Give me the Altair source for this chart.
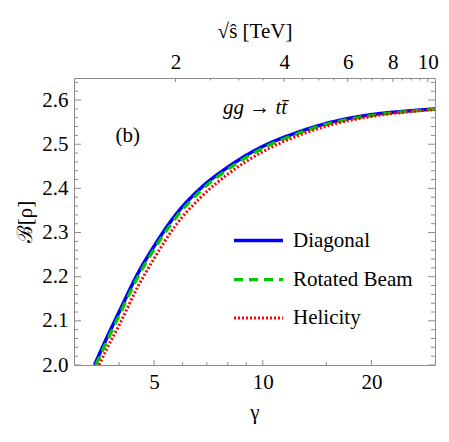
import altair as alt
import pandas as pd

# ---- data ----
series_names = ["Diagonal", "Rotated Beam", "Helicity"]

gamma_diag = [3.42, 3.7, 4.0, 4.5, 5.0, 5.7, 6.7, 8.0, 10.0, 12.5, 15.0, 20.0, 25.0, 30.0]
b_diag = [2.000, 2.062, 2.120, 2.206, 2.269, 2.337, 2.399, 2.448, 2.495, 2.527, 2.547, 2.567, 2.575, 2.580]

gamma_rot = [3.45, 3.7, 4.0, 4.5, 5.0, 5.7, 6.7, 8.0, 10.0, 12.5, 15.0, 20.0, 25.0, 30.0]
b_rot = [2.000, 2.054, 2.112, 2.198, 2.262, 2.330, 2.393, 2.443, 2.491, 2.524, 2.545, 2.565, 2.574, 2.579]

gamma_hel = [3.52, 3.7, 4.0, 4.5, 5.0, 5.7, 6.7, 8.0, 10.0, 12.5, 15.0, 20.0, 25.0, 30.0]
b_hel = [2.000, 2.037, 2.090, 2.176, 2.241, 2.313, 2.378, 2.432, 2.483, 2.519, 2.541, 2.563, 2.573, 2.579]

x_major = [5, 10, 20]
x_minor = [4, 6, 7, 8, 9, 15]
y_major = [2.0, 2.1, 2.2, 2.3, 2.4, 2.5, 2.6]
y_minor = [2.02, 2.04, 2.06, 2.08, 2.12, 2.14, 2.16, 2.18, 2.22, 2.24, 2.26, 2.28,
           2.32, 2.34, 2.36, 2.38, 2.42, 2.44, 2.46, 2.48, 2.52, 2.54, 2.56, 2.58,
           2.62, 2.64]
top_major = [2, 4, 6, 8, 10]
top_minor = [2.5, 3, 3.5, 4.5, 5, 5.5, 6.5, 7, 7.5, 8.5, 9, 9.5]

gamma_domain = [3, 30]
sqrt_s_domain = [1.047, 10.47]
b_domain = [2.0, 2.65]

# ---- styling ----
W, H = 361, 287
FONT = "Liberation Serif"
FS = 21
FRAME = "#8c8c8c"
colors = ["#0000ff", "#00c800", "#ff0000"]
dashes = [[1, 0], [9, 6], [2, 2]]
widths = [3.5, 3.0, 2.5]

df = pd.concat([
    pd.DataFrame({"gamma": gamma_diag, "B": b_diag, "series": "Diagonal"}),
    pd.DataFrame({"gamma": gamma_rot, "B": b_rot, "series": "Rotated Beam"}),
    pd.DataFrame({"gamma": gamma_hel, "B": b_hel, "series": "Helicity"}),
])

xscale = alt.Scale(type="log", domain=gamma_domain, nice=False)
yscale = alt.Scale(domain=b_domain, nice=False, zero=False)

x_axis = alt.Axis(orient="bottom", values=x_major, format="d",
                  ticks=False, domain=False, grid=False,
                  labelPadding=6, title="γ",
                  titleBaseline="alphabetic", titleY=53, titleX=W / 2)
y_axis = alt.Axis(orient="left", values=y_major, format=".1f",
                  ticks=False, domain=False, grid=False,
                  labelPadding=6, title="ℬ[ρ]",
                  titleBaseline="middle", titleAngle=-90,
                  titleX=-49, titleY=H / 2)

legend = alt.Legend(title=None, orient="none", legendX=158, legendY=136,
                    symbolType="stroke", symbolSize=2400, symbolStrokeWidth=3,
                    labelFont=FONT, labelFontSize=FS, labelColor="black",
                    labelOffset=8, rowPadding=2)

base = alt.Chart(df)


def line_layer(name):
    return base.transform_filter(alt.datum.series == name).mark_line(
        interpolate="monotone", clip=True).encode(
        x=alt.X("gamma:Q", scale=xscale, axis=x_axis),
        y=alt.Y("B:Q", scale=yscale, axis=y_axis),
        color=alt.Color("series:N", scale=alt.Scale(domain=series_names, range=colors),
                        legend=legend),
        strokeDash=alt.StrokeDash("series:N", scale=alt.Scale(domain=series_names, range=dashes),
                                  legend=legend),
        strokeWidth=alt.StrokeWidth("series:N", scale=alt.Scale(domain=series_names, range=widths),
                                    legend=None),
    )


lines = [line_layer(n) for n in series_names]


def xticks(values, length):
    return alt.Chart(pd.DataFrame({"v": values})).mark_rule(color=FRAME, strokeWidth=1).encode(
        x=alt.X("v:Q", scale=xscale, axis=x_axis),
        y=alt.value(H), y2=alt.value(H - length))


def yticks(values, length, right=False):
    x0 = W if right else 0
    x1 = W - length if right else length
    return alt.Chart(pd.DataFrame({"v": values})).mark_rule(color=FRAME, strokeWidth=1).encode(
        y=alt.Y("v:Q", scale=yscale, axis=y_axis),
        x=alt.value(x0), x2=alt.value(x1))


labels_b = alt.Chart(pd.DataFrame({"gamma": [4.23], "B": [2.519], "t": ["(b)"]})).mark_text(
    font=FONT, fontSize=FS, color="black", align="center", baseline="middle").encode(
    x=alt.X("gamma:Q", scale=xscale, axis=x_axis),
    y=alt.Y("B:Q", scale=yscale, axis=y_axis), text="t:N")

labels_proc = alt.Chart(pd.DataFrame({"gamma": [9.52], "B": [2.582], "t": ["gg → tt\u0304"]})).mark_text(
    font=FONT, fontSize=FS, fontStyle="italic", color="black", align="center",
    baseline="middle").encode(
    x=alt.X("gamma:Q", scale=xscale, axis=x_axis),
    y=alt.Y("B:Q", scale=yscale, axis=y_axis), text="t:N")

bottom_group = alt.layer(
    *lines,
    xticks(x_major, 5), xticks(x_minor, 3),
    yticks(y_major, 7), yticks(y_minor, 4),
    yticks(y_major, 7, right=True), yticks(y_minor, 4, right=True),
    labels_b, labels_proc,
)

top_scale = alt.Scale(type="log", domain=sqrt_s_domain, nice=False)
top_axis = alt.Axis(orient="top", values=top_major, format="d", ticks=False,
                    domain=False, grid=False, labelPadding=6,
                    title="√ŝ [TeV]", titleBaseline="alphabetic",
                    titleY=-41, titleX=W / 2)

top_major_layer = alt.Chart(pd.DataFrame({"s": top_major})).mark_rule(
    color=FRAME, strokeWidth=1).encode(
    x=alt.X("s:Q", scale=top_scale, axis=top_axis),
    y=alt.value(0), y2=alt.value(4))

top_minor_layer = alt.Chart(pd.DataFrame({"s": top_minor})).mark_rule(
    color=FRAME, strokeWidth=1).encode(
    x=alt.X("s:Q", scale=top_scale, axis=top_axis),
    y=alt.value(0), y2=alt.value(2.5))

top_group = alt.layer(top_major_layer, top_minor_layer)

chart = alt.layer(bottom_group, top_group).resolve_scale(x="independent").properties(
    width=W, height=H,
    background="white",
    autosize=alt.AutoSizeParams(type="none"),
    padding={"left": 66, "top": 70, "right": 6, "bottom": 69},
).configure_view(stroke=FRAME, strokeWidth=1).configure_axis(
    labelFont=FONT, labelFontSize=FS, labelColor="black",
    titleFont=FONT, titleFontSize=FS, titleColor="black", titleFontWeight="normal",
).configure_legend(labelFont=FONT, labelFontSize=FS, labelColor="black")

chart.save("out.html", embed_options={"renderer": "svg", "actions": False})
